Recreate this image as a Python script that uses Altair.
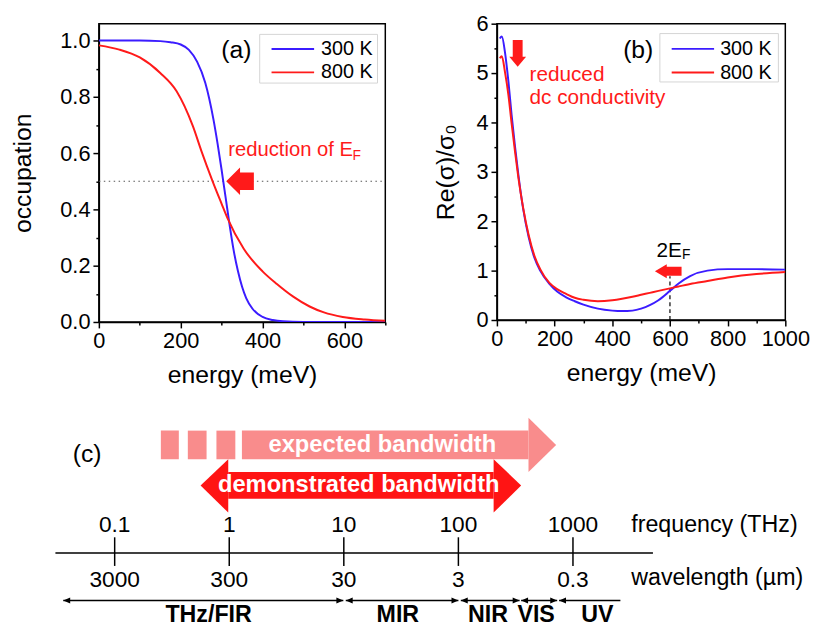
import math
import altair as alt
import pandas as pd

FONT = "Liberation Sans"
BLUE = "#3b1cff"
RED = "#ff1a1a"
EXP_COLOR = "#f98c8c"
DEMO_COLOR = "#ff1414"
SERIES = ["300 K", "800 K"]

# ---------------- panel (a): occupation vs energy ----------------
E_A_300 = [0, 50, 100, 150, 175, 200, 220, 240, 260, 280, 290, 300, 304, 310, 320, 330, 340, 350, 360, 375, 400, 425, 450, 500, 600, 700]
OCC_300 = [1.0, 1.0, 1.0, 0.998, 0.994, 0.986, 0.967, 0.925, 0.85, 0.72, 0.635, 0.54, 0.50, 0.44, 0.34, 0.25, 0.18, 0.125, 0.085, 0.048, 0.018, 0.007, 0.0025, 0.0003, 0.0, 0.0]
E_A_800 = [0, 50, 100, 150, 190, 230, 250, 278, 300, 314, 354, 400, 435, 475, 515, 550, 596, 650, 700]
OCC_800 = [0.983, 0.968, 0.94, 0.885, 0.82, 0.695, 0.61, 0.50, 0.42, 0.37, 0.26, 0.18, 0.135, 0.09, 0.055, 0.034, 0.018, 0.009, 0.004]

# ---------------- panel (b): Re(sigma)/sigma0 vs energy ----------------
E_B = [10, 17, 28, 40, 51, 63, 74, 91, 110, 130, 150, 182, 210, 240, 270, 300, 350, 400, 434, 470, 500, 530, 560, 600, 630, 670, 730, 800, 900, 1000]
SIG_300 = [5.70, 5.74, 5.42, 4.82, 4.15, 3.50, 2.96, 2.25, 1.68, 1.26, 1.0, 0.73, 0.57, 0.46, 0.38, 0.31, 0.23, 0.19, 0.18, 0.19, 0.23, 0.30, 0.40, 0.59, 0.74, 0.89, 1.0, 1.03, 1.03, 1.02]
SIG_800 = [5.30, 5.34, 5.02, 4.55, 3.98, 3.40, 2.90, 2.27, 1.72, 1.30, 1.03, 0.75, 0.62, 0.53, 0.45, 0.41, 0.38, 0.40, 0.43, 0.47, 0.51, 0.55, 0.59, 0.64, 0.68, 0.73, 0.79, 0.86, 0.93, 0.97]

# ---------------- panel (c): spectrum diagram ----------------
FREQ_TICKS = [0.1, 1, 10, 100, 1000]
FREQ_LABELS = ["0.1", "1", "10", "100", "1000"]
WAVE_LABELS = ["3000", "300", "30", "3", "0.3"]
REGIONS = ["THz/FIR", "MIR", "NIR", "VIS", "UV"]
REGION_START = [0.0356, 10.4, 105, 353, 757]
REGION_END = [9.9, 100, 342, 728, 2594]
REGION_LABEL_AT = [0.66, 29.6, 181, 477, 1633]
REGION_RIGHT_HEAD = [True, True, True, True, False]
EXPECTED_DASH_START = [0.253, 0.435, 0.773]
EXPECTED_DASH_END = [0.363, 0.634, 1.13]
EXPECTED_BODY = [1.29, 409]
EXPECTED_TIP = 713
DEMO_BODY = [0.98, 203]
DEMO_TIPS = [0.562, 353]
AXIS_SPAN = [0.0304, 4990]

# ---------------- layout constants ----------------
A_W, A_H = 290, 302
B_W, B_H = 292, 300
C_W, C_H = 600, 214
C_X0 = 99           # page x of panel (c) origin
PX_PER_DEC = 116
PX_1THZ = 231
C_LO = 10 ** ((C_X0 - PX_1THZ) / PX_PER_DEC)
C_HI = 10 ** ((C_X0 + C_W - PX_1THZ) / PX_PER_DEC)
Y_EXP_T, Y_EXP_BT, Y_EXP_M, Y_EXP_BB, Y_EXP_B = 12, 25, 39.5, 54, 67
Y_DEM_T, Y_DEM_BT, Y_DEM_M, Y_DEM_BB, Y_DEM_B = 54, 67, 80.5, 94, 108
Y_FREQ, Y_AXIS, Y_TICK_T, Y_TICK_B, Y_WAVE, Y_REG, Y_REGLAB = 121, 149, 133, 162, 176, 197, 212

major_tick = lambda test: {"condition": {"test": test, "value": 6}, "value": 3}

AX_A_X = alt.Axis(title="energy (meV)", values=list(range(0, 701, 100)),
                  labelExpr="datum.value % 200 === 0 ? datum.label : ''",
                  tickSize=major_tick("datum.value % 200 === 0"), labelPadding=3, titlePadding=11)
AX_A_Y = alt.Axis(title="occupation", values=[round(i * 0.1, 1) for i in range(11)],
                  labelExpr="round(datum.value*10) % 2 === 0 ? format(datum.value, '.1f') : ''",
                  tickSize=major_tick("round(datum.value*10) % 2 === 0"), labelPadding=3, titlePadding=25)
AX_B_X = alt.Axis(title="energy (meV)", values=list(range(0, 1001, 100)),
                  labelExpr="datum.value % 200 === 0 ? format(datum.value, 'd') : ''",
                  tickSize=major_tick("datum.value % 200 === 0"), labelPadding=3, titlePadding=11)
AX_B_Y = alt.Axis(title="Re(σ)/σ₀", values=[i * 0.5 for i in range(13)],
                  labelExpr="datum.value % 1 === 0 ? format(datum.value, 'd') : ''",
                  tickSize=major_tick("datum.value % 1 === 0"), labelPadding=3, titlePadding=18)

def xa(f="E"):
    return alt.X(f"{f}:Q", scale=alt.Scale(domain=[0, 700], nice=False, zero=False), axis=AX_A_X)
def ya(f="v"):
    return alt.Y(f"{f}:Q", scale=alt.Scale(domain=[0, 1.06], nice=False), axis=AX_A_Y)
def xb(f="E"):
    return alt.X(f"{f}:Q", scale=alt.Scale(domain=[0, 1000], nice=False, zero=False), axis=AX_B_X)
def yb(f="v"):
    return alt.Y(f"{f}:Q", scale=alt.Scale(domain=[0, 6], nice=False), axis=AX_B_Y)

color_scale = alt.Scale(domain=SERIES, range=[BLUE, RED])

ARROW_LEFT_BIG = "M-1,0 L0,-1 L0,-0.64 L1,-0.64 L1,0.64 L0,0.64 L0,1 Z"
ARROW_DOWN = "M-0.37,-1 L0.37,-1 L0.37,0.26 L0.63,0.26 L0,1 L-0.63,0.26 L-0.37,0.26 Z"
ARROW_LEFT_SMALL = "M-1,0 L-0.11,-0.52 L-0.11,-0.33 L1,-0.33 L1,0.33 L-0.11,0.33 L-0.11,0.52 Z"
HEAD_RIGHT = "M0,0 L-2,-0.86 L-2,0.86 Z"
HEAD_LEFT = "M0,0 L2,-0.86 L2,0.86 Z"


def legend_layers(xenc, yenc, box, line_x, rows_v, label_x):
    """Legend drawn in the panel's own data coordinates."""
    box_df = pd.DataFrame({"E": [box[0]], "E1": [box[1]], "v": [box[2]], "v1": [box[3]]})
    box_l = alt.Chart(box_df).mark_rect(fill="white", stroke="#d4d4d4", strokeWidth=1).encode(
        x=xenc("E"), x2="E1:Q", y=yenc("v"), y2="v1:Q")
    ln_df = pd.DataFrame({"E": [line_x[0]] * 2, "E1": [line_x[1]] * 2, "v": rows_v, "series": SERIES})
    ln_l = alt.Chart(ln_df).mark_rule(strokeWidth=2).encode(
        x=xenc("E"), x2="E1:Q", y=yenc("v"),
        color=alt.Color("series:N", scale=color_scale, legend=None))
    tx_df = pd.DataFrame({"E": [label_x] * 2, "v": rows_v, "series": SERIES})
    tx_l = alt.Chart(tx_df).mark_text(align="left", baseline="middle", fontSize=20, color="black").encode(
        x=xenc("E"), y=yenc("v"), text="series:N")
    return [box_l, ln_l, tx_l]


# ---- panel (a)
df_a = pd.concat([
    pd.DataFrame({"E": E_A_300, "v": OCC_300, "series": SERIES[0]}),
    pd.DataFrame({"E": E_A_800, "v": OCC_800, "series": SERIES[1]}),
])
a_ref = alt.Chart(pd.DataFrame({"E": [0], "E1": [700], "v": [0.5]})).mark_rule(
    color="#555", strokeDash=[1.5, 3.5], strokeWidth=1.2).encode(x=xa(), x2="E1:Q", y=ya())
a_lines = alt.Chart(df_a).mark_line(strokeWidth=2, interpolate="monotone", clip=True).encode(
    x=xa(), y=ya(), color=alt.Color("series:N", scale=color_scale, legend=None))
a_arrow = alt.Chart(pd.DataFrame({"E": [345], "v": [0.5]})).mark_point(
    shape=ARROW_LEFT_BIG, size=784, filled=True, color=RED, opacity=1, strokeWidth=0).encode(x=xa(), y=ya())
a_text = alt.Chart(pd.DataFrame({"E": [316], "v": [0.589], "t": ["reduction of E"]})).mark_text(
    align="left", baseline="alphabetic", fontSize=20.5, color=RED).encode(x=xa(), y=ya(), text="t:N")
a_sub = alt.Chart(pd.DataFrame({"E": [620], "v": [0.575], "t": ["F"]})).mark_text(
    align="left", baseline="alphabetic", fontSize=14, color=RED).encode(x=xa(), y=ya(), text="t:N")
a_lab = alt.Chart(pd.DataFrame({"E": [336], "v": [0.965], "t": ["(a)"]})).mark_text(
    align="center", baseline="middle", fontSize=25, color="black").encode(x=xa(), y=ya(), text="t:N")
a_leg = legend_layers(xa, ya, [393, 681, 1.022, 0.849], [422, 526], [0.970, 0.887], 543)
panel_a = alt.layer(a_ref, a_lines, a_arrow, a_text, a_sub, a_lab, *a_leg).properties(width=A_W, height=A_H)

# ---- panel (b)
df_b = pd.concat([
    pd.DataFrame({"E": E_B, "v": SIG_300, "series": SERIES[0]}),
    pd.DataFrame({"E": E_B, "v": SIG_800, "series": SERIES[1]}),
])
b_dash = alt.Chart(pd.DataFrame({"E": [600], "v": [0], "v1": [0.888]})).mark_rule(
    color="black", strokeDash=[4, 3], strokeWidth=1.2).encode(x=xb(), y=yb(), y2="v1:Q")
b_lines = alt.Chart(df_b).mark_line(strokeWidth=2, interpolate="monotone", clip=True).encode(
    x=xb(), y=yb(), color=alt.Color("series:N", scale=color_scale, legend=None))
b_down = alt.Chart(pd.DataFrame({"E": [72], "v": [5.40]})).mark_point(
    shape=ARROW_DOWN, size=729, filled=True, color=RED, opacity=1, strokeWidth=0).encode(x=xb(), y=yb())
b_left = alt.Chart(pd.DataFrame({"E": [594], "v": [0.987]})).mark_point(
    shape=ARROW_LEFT_SMALL, size=729, filled=True, color=RED, opacity=1, strokeWidth=0).encode(x=xb(), y=yb())
b_red = alt.Chart(pd.DataFrame({"E": [113, 113], "v": [4.835, 4.38], "t": ["reduced", "dc conductivity"]})).mark_text(
    align="left", baseline="alphabetic", fontSize=21, color=RED).encode(x=xb(), y=yb(), text="t:N")
b_2e = alt.Chart(pd.DataFrame({"E": [553], "v": [1.283], "t": ["2E"]})).mark_text(
    align="left", baseline="alphabetic", fontSize=21, color="black").encode(x=xb(), y=yb(), text="t:N")
b_sub = alt.Chart(pd.DataFrame({"E": [642], "v": [1.243], "t": ["F"]})).mark_text(
    align="left", baseline="alphabetic", fontSize=14, color="black").encode(x=xb(), y=yb(), text="t:N")
b_lab = alt.Chart(pd.DataFrame({"E": [490], "v": [5.47], "t": ["(b)"]})).mark_text(
    align="center", baseline="middle", fontSize=25, color="black").encode(x=xb(), y=yb(), text="t:N")
b_leg = legend_layers(xb, yb, [565, 976, 5.80, 4.82], [606, 753], [5.49, 5.01], 774)
panel_b = alt.layer(b_dash, b_lines, b_down, b_left, *b_leg, b_red, b_2e, b_sub, b_lab).properties(width=B_W, height=B_H)

# ---- panel (c)
def xc(f):
    return alt.X(f"{f}:Q", scale=alt.Scale(type="log", domain=[C_LO, C_HI], nice=False), axis=None)
def yc(f):
    return alt.Y(f"{f}:Q", scale=alt.Scale(domain=[0, C_H], reverse=True, nice=False, zero=False), axis=None)

exp_rects = pd.DataFrame({
    "f0": EXPECTED_DASH_START + [EXPECTED_BODY[0]],
    "f1": EXPECTED_DASH_END + [EXPECTED_BODY[1]],
    "y0": [Y_EXP_BT] * 4, "y1": [Y_EXP_BB] * 4})
c_exp_rect = alt.Chart(exp_rects).mark_rect(color=EXP_COLOR).encode(x=xc("f0"), x2="f1:Q", y=yc("y0"), y2="y1:Q")
exp_head = pd.DataFrame({"id": ["e", "e"], "f": [EXPECTED_BODY[1], EXPECTED_TIP],
                         "yt": [Y_EXP_T, Y_EXP_M], "yb": [Y_EXP_B, Y_EXP_M]})
c_exp_head = alt.Chart(exp_head).mark_area(color=EXP_COLOR, strokeWidth=0).encode(
    x=xc("f"), y=yc("yt"), y2="yb:Q", detail="id:N")
c_exp_text = alt.Chart(pd.DataFrame({"f": [21.7], "y": [Y_EXP_M], "t": ["expected bandwidth"]})).mark_text(
    fontSize=24, fontWeight="bold", color="white", baseline="middle").encode(x=xc("f"), y=yc("y"), text="t:N")

dem_rect = pd.DataFrame({"f0": [DEMO_BODY[0]], "f1": [DEMO_BODY[1]], "y0": [Y_DEM_BT], "y1": [Y_DEM_BB]})
c_dem_rect = alt.Chart(dem_rect).mark_rect(color=DEMO_COLOR).encode(x=xc("f0"), x2="f1:Q", y=yc("y0"), y2="y1:Q")
dem_heads = pd.DataFrame({"id": ["l", "l", "r", "r"],
                          "f": [DEMO_TIPS[0], DEMO_BODY[0], DEMO_BODY[1], DEMO_TIPS[1]],
                          "yt": [Y_DEM_M, Y_DEM_T, Y_DEM_T, Y_DEM_M],
                          "yb": [Y_DEM_M, Y_DEM_B, Y_DEM_B, Y_DEM_M]})
c_dem_head = alt.Chart(dem_heads).mark_area(color=DEMO_COLOR, strokeWidth=0).encode(
    x=xc("f"), y=yc("yt"), y2="yb:Q", detail="id:N")
c_dem_text = alt.Chart(pd.DataFrame({"f": [13.5], "y": [Y_DEM_M], "t": ["demonstrated bandwidth"]})).mark_text(
    fontSize=24, fontWeight="bold", color="white", baseline="middle").encode(x=xc("f"), y=yc("y"), text="t:N")

c_axis = alt.Chart(pd.DataFrame({"f0": [AXIS_SPAN[0]], "f1": [AXIS_SPAN[1]], "y": [Y_AXIS]})).mark_rule(
    color="black", strokeWidth=1.5).encode(x=xc("f0"), x2="f1:Q", y=yc("y"))
c_ticks = alt.Chart(pd.DataFrame({"f": FREQ_TICKS, "y0": Y_TICK_T, "y1": Y_TICK_B})).mark_rule(
    color="black", strokeWidth=1.5).encode(x=xc("f"), y=yc("y0"), y2="y1:Q")
c_flab = alt.Chart(pd.DataFrame({"f": FREQ_TICKS, "y": Y_FREQ, "t": FREQ_LABELS})).mark_text(
    fontSize=23, color="black", baseline="middle").encode(x=xc("f"), y=yc("y"), text="t:N")
c_wlab = alt.Chart(pd.DataFrame({"f": FREQ_TICKS, "y": Y_WAVE, "t": WAVE_LABELS})).mark_text(
    fontSize=23, color="black", baseline="middle").encode(x=xc("f"), y=yc("y"), text="t:N")
c_titles = alt.Chart(pd.DataFrame({"f": [3228, 3228], "y": [Y_FREQ, Y_WAVE - 2],
                                   "t": ["frequency (THz)", "wavelength (µm)"]})).mark_text(
    fontSize=23.5, color="black", baseline="middle", align="left").encode(x=xc("f"), y=yc("y"), text="t:N")
c_lab = alt.Chart(pd.DataFrame({"f": [0.0574], "y": [49], "t": ["(c)"]})).mark_text(
    fontSize=25, color="black", baseline="middle").encode(x=xc("f"), y=yc("y"), text="t:N")

reg = pd.DataFrame({"f0": REGION_START, "f1": REGION_END, "y": Y_REG, "name": REGIONS, "at": REGION_LABEL_AT})
c_reg = alt.Chart(reg).mark_rule(color="black", strokeWidth=1.5).encode(x=xc("f0"), x2="f1:Q", y=yc("y"))
c_reg_l = alt.Chart(reg).mark_point(shape=HEAD_LEFT, size=49, filled=True, color="black", opacity=1,
                                     strokeWidth=0).encode(x=xc("f0"), y=yc("y"))
reg_r = pd.DataFrame({"f1": [e for e, h in zip(REGION_END, REGION_RIGHT_HEAD) if h], "y": Y_REG})
c_reg_r = alt.Chart(reg_r).mark_point(shape=HEAD_RIGHT, size=49, filled=True, color="black", opacity=1,
                                       strokeWidth=0).encode(x=xc("f1"), y=yc("y"))
reg_lab = pd.DataFrame({"at": REGION_LABEL_AT, "y": Y_REGLAB, "name": REGIONS})
c_reg_t = alt.Chart(reg_lab).mark_text(fontSize=23.5, fontWeight="bold", color="black", baseline="middle").encode(
    x=xc("at"), y=yc("y"), text="name:N")

panel_c = alt.layer(c_exp_rect, c_exp_head, c_exp_text, c_dem_rect, c_dem_head, c_dem_text,
                    c_axis, c_ticks, c_flab, c_wlab, c_titles, c_lab, c_reg, c_reg_l, c_reg_r, c_reg_t
                    ).properties(width=C_W, height=C_H, view=alt.ViewBackground(stroke="transparent"))

top = alt.hconcat(panel_a, panel_b, spacing=46)
chart = alt.vconcat(top, panel_c, spacing=17).properties(
    padding={"left": 1, "top": 0, "right": 0, "bottom": 0}
).configure_axis(
    labelFont=FONT, titleFont=FONT, labelFontSize=22, titleFontSize=25, titleFontWeight="normal",
    labelColor="black", titleColor="black", domainColor="black", tickColor="black",
    domainWidth=1.5, tickWidth=1.5, grid=False, labelOverlap=False, labelFlush=False
).configure_view(stroke="black", strokeWidth=1.5).configure_text(font=FONT)

chart.save("out.html", embed_options={"renderer": "svg", "actions": False})
